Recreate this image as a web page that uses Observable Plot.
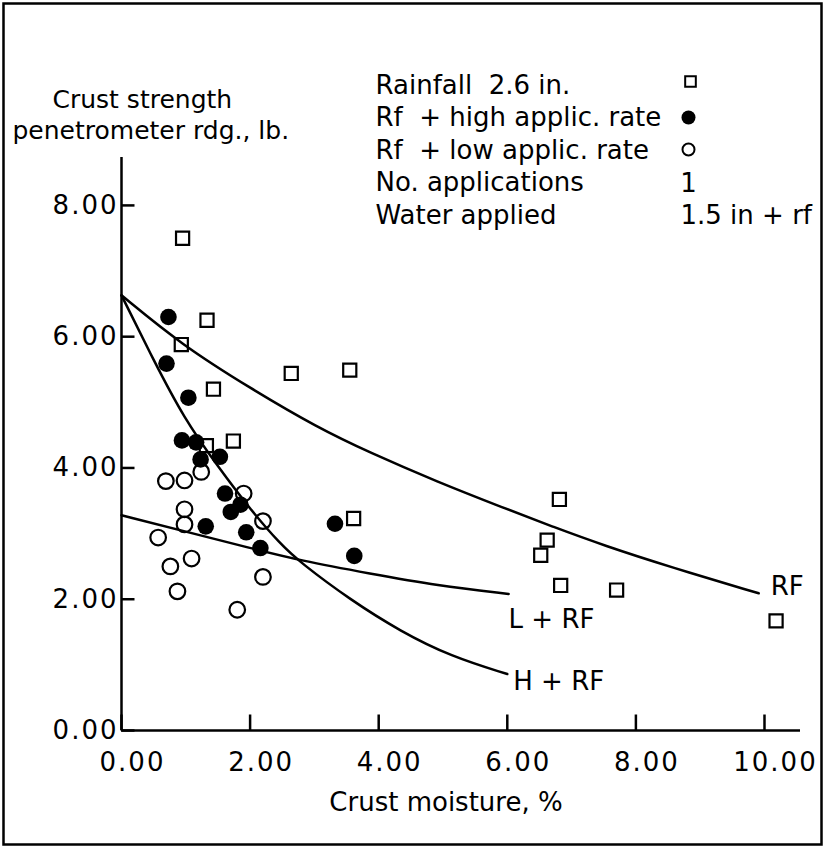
<!DOCTYPE html>
<html><head><meta charset="utf-8">
<script src="https://cdn.jsdelivr.net/npm/d3@7"></script>
<script src="https://cdn.jsdelivr.net/npm/@observablehq/plot@0.6"></script>
<style>
body{margin:0;background:#fff;overflow:hidden} svg{display:block}
g[aria-label="x-axis tick label"] text, g[aria-label="y-axis tick label"] text {letter-spacing:2px}
</style>
</head><body><div id="chart"></div>
<script>
// ---- data ----
const xTicks = [0, 2, 4, 6, 8, 10];
const yTicks = [0, 2, 4, 6, 8];
// [crust moisture %, penetrometer reading lb]
const rainfall = [[0.95,7.50],[1.33,6.25],[0.93,5.88],[1.43,5.20],[1.32,4.34],[1.74,4.41],[2.64,5.44],[3.55,5.49],[3.61,3.23],[6.81,3.52],[6.62,2.90],[6.52,2.67],[6.83,2.21],[7.70,2.14],[10.18,1.67]];
const highRate = [[0.73,6.30],[0.70,5.59],[1.04,5.07],[0.94,4.42],[1.16,4.39],[1.23,4.13],[1.53,4.17],[1.61,3.61],[1.85,3.44],[1.70,3.33],[1.31,3.11],[1.94,3.02],[2.16,2.78],[3.32,3.15],[3.62,2.66]];
const lowRate = [[1.24,3.94],[0.69,3.80],[0.98,3.81],[1.90,3.61],[0.98,3.37],[0.98,3.14],[2.20,3.19],[0.57,2.94],[1.09,2.62],[0.76,2.50],[2.20,2.34],[0.87,2.12],[1.80,1.84]];
// fitted curves as drawn
const curveRF = [[0,6.63],[0.93,5.88],[2.01,5.21],[3.04,4.62],[3.87,4.23],[4.91,3.79],[5.95,3.39],[6.72,3.10],[7.50,2.82],[8.54,2.49],[9.91,2.09]];
const curveH = [[0,6.63],[0.5,5.64],[0.97,4.76],[1.5,4.02],[2.01,3.36],[2.47,2.84],[2.78,2.56],[3.56,1.99],[4.34,1.51],[5.12,1.13],[6.0,0.86]];
const curveL = [[0,3.28],[1.0,3.03],[2.0,2.78],[2.78,2.59],[3.87,2.39],[4.91,2.21],[6.02,2.08]];
const curveNames = ["RF", "L + RF", "H + RF"];
const legendLabels = ["Rainfall  2.6 in.", "Rf  + high applic. rate", "Rf  + low applic. rate", "No. applications", "Water applied"];
const legendValues = ["1", "1.5 in + rf"];
const xLabel = "Crust moisture, %";
const yLabel = ["Crust strength", "penetrometer rdg., lb."];

const font = "'DejaVu Sans', sans-serif";
const fs = 26;
const xMax = 10.56, yMax = 8.73;

const border = (index, scales, values, dims) =>
  d3.create("svg:rect")
    .attr("x", 3.5).attr("y", 3.5)
    .attr("width", dims.width - 7).attr("height", dims.height - 7)
    .attr("fill", "none").attr("stroke", "black").attr("stroke-width", 2.5)
    .node();

const txt = (s, o) => Plot.text([s], {text: d => d, fontSize: fs, fill: "black", textAnchor: "start", lineAnchor: "bottom", frameAnchor: "top-left", ...o});

const chart = Plot.plot({
  width: 825,
  height: 848,
  marginLeft: 121,
  marginRight: 25,
  marginTop: 157,
  marginBottom: 118,
  style: {fontFamily: font, fontSize: fs + "px", background: "white", color: "black", maxWidth: "none"},
  x: {domain: [0, xMax], axis: null},
  y: {domain: [0, yMax], axis: null},
  marks: [
    border,
    Plot.ruleY([0], {stroke: "black", strokeWidth: 2.5}),
    Plot.ruleX([0], {stroke: "black", strokeWidth: 2.5}),
    Plot.axisX(xTicks, {tickSize: 0, tickPadding: 22, dx: 11, tickFormat: d3.format(".2f"), fontSize: fs, label: null}),
    Plot.axisY(yTicks, {tickSize: 0, tickPadding: 3, tickFormat: d3.format(".2f"), fontSize: fs, label: null}),
    Plot.dot(rainfall, {symbol: "square", r: 7.4, stroke: "black", strokeWidth: 2.2, fill: "none"}),
    Plot.dot(lowRate, {symbol: "circle", r: 7.8, stroke: "black", strokeWidth: 2.2, fill: "none"}),
    Plot.dot(highRate, {symbol: "circle", r: 8.3, fill: "black", stroke: "none"}),
    Plot.line(curveRF, {curve: "basis", stroke: "black", strokeWidth: 2.5}),
    Plot.line(curveH, {curve: "basis", stroke: "black", strokeWidth: 2.5}),
    Plot.line(curveL, {curve: "basis", stroke: "black", strokeWidth: 2.5}),
    Plot.text([curveRF[curveRF.length - 1]], {text: () => curveNames[0], dx: 12, dy: 2, textAnchor: "start", lineAnchor: "bottom", fontSize: fs}),
    Plot.text([curveL[curveL.length - 1]], {text: () => curveNames[1], dx: 0, dy: 34, textAnchor: "start", lineAnchor: "bottom", fontSize: fs}),
    Plot.text([curveH[curveH.length - 1]], {text: () => curveNames[2], dx: 6, dy: 16, textAnchor: "start", lineAnchor: "bottom", fontSize: fs}),
    // axis titles
    Plot.text([xLabel], {text: d => d, frameAnchor: "bottom", dx: -15, dy: 80, lineAnchor: "bottom", fontSize: fs}),
    txt(yLabel[0], {dx: -69, dy: -50, fontSize: 25}),
    txt(yLabel[1], {dx: -109, dy: -19, fontSize: 25}),
    // legend
    ...legendLabels.map((s, i) => txt(s, {dx: 254, dy: -64 + i * 32.5})),
    Plot.dot([0], {frameAnchor: "top-left", dx: 569, dy: -76, symbol: "square", r: 6, stroke: "black", strokeWidth: 2, fill: "none"}),
    Plot.dot([0], {frameAnchor: "top-left", dx: 567, dy: -40, symbol: "circle", r: 7, fill: "black"}),
    Plot.dot([0], {frameAnchor: "top-left", dx: 567, dy: -8, symbol: "circle", r: 6, stroke: "black", strokeWidth: 2, fill: "none"}),
    txt(legendValues[0], {dx: 567, dy: 34, textAnchor: "middle"}),
    txt(legendValues[1], {dx: 559, dy: 66}),
    // inward tick marks, drawn last (length ≈ 16 px and 13 px)
    Plot.link(xTicks, {x1: d => d, x2: d => d, y1: () => 0, y2: () => yMax * 16 / 573, stroke: "black", strokeWidth: 2.5}),
    Plot.link(yTicks, {y1: d => d, y2: d => d, x1: () => 0, x2: () => xMax * 13 / 679, stroke: "black", strokeWidth: 2.5})
  ]
});
document.getElementById("chart").append(chart);
</script>
</body></html>
